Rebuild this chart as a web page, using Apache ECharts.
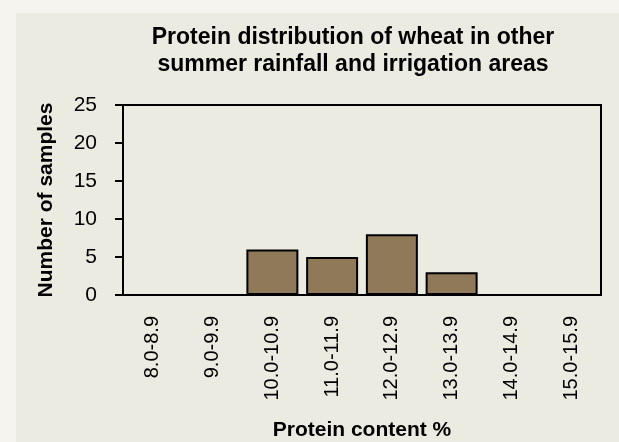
<!DOCTYPE html>
<html>
  <head>
    <meta charset="utf-8" />
    <title>Protein distribution</title>
    <style type="text/css">
      html,
      body {
        width: 100%;
        height: 100%;
        margin: 0px;
        background: #f6f4ef;
      }

      #panel {
        position: absolute;
        left: 16px;
        top: 13px;
        right: 0px;
        bottom: 0px;
        background: #ecebe1;
      }

      #chart {
        position: absolute;
        left: 0px;
        top: 0px;
        width: 619px;
        height: 442px;
      }
    </style>
    <script type="text/javascript" src="https://cdn.jsdelivr.net/npm/echarts@6/dist/echarts.min.js"></script>
  </head>

  <body>
    <div id="panel"></div>
    <div id="chart"></div>
    <script>
      const categories = ['8.0-8.9', '9.0-9.9', '10.0-10.9', '11.0-11.9', '12.0-12.9', '13.0-13.9', '14.0-14.9', '15.0-15.9'];
      const samples = [0, 0, 6, 5, 8, 3, 0, 0];
      const yTicks = [0, 5, 10, 15, 20, 25];

      const font = 'Liberation Sans, Arial, sans-serif';
      const chart = echarts.init(document.getElementById('chart'), null, { renderer: 'canvas' });

      const option = {
        backgroundColor: 'transparent',
        animation: false,
        title: {
          text: 'Protein distribution of wheat in other\nsummer rainfall and irrigation areas',
          left: 348,
          top: 19,
          textAlign: 'center',
          textStyle: {
            fontFamily: font,
            fontSize: 23,
            fontWeight: 'bold',
            color: '#000',
            lineHeight: 27
          }
        },
        grid: {
          left: 123,
          right: 18,
          top: 105,
          bottom: 146,
          show: true,
          borderColor: '#000',
          borderWidth: 2,
          backgroundColor: 'transparent'
        },
        xAxis: {
          type: 'category',
          data: categories,
          name: 'Protein content %',
          nameLocation: 'middle',
          nameGap: 125,
          nameTextStyle: { fontFamily: font, fontSize: 21, fontWeight: 'bold', color: '#000' },
          axisLine: { lineStyle: { color: '#000', width: 2 } },
          axisTick: { length: 7, lineStyle: { color: '#000', width: 2 } },
          axisLabel: { rotate: 90, margin: 21, fontFamily: font, fontSize: 20, color: '#000' }
        },
        yAxis: {
          type: 'value',
          min: yTicks[0],
          max: yTicks[yTicks.length - 1],
          interval: yTicks[1] - yTicks[0],
          name: 'Number of samples',
          nameLocation: 'middle',
          nameGap: 66,
          nameTextStyle: { fontFamily: font, fontSize: 21, fontWeight: 'bold', color: '#000' },
          axisLine: { show: true, lineStyle: { color: '#000', width: 2 } },
          axisTick: { show: true, length: 8, lineStyle: { color: '#000', width: 2 } },
          axisLabel: { margin: 26, fontFamily: font, fontSize: 21, color: '#000' },
          splitLine: { show: false }
        },
        series: [
          {
            type: 'bar',
            data: samples,
            barCategoryGap: '13%',
            itemStyle: {
              color: '#8f7958',
              borderColor: '#000',
              borderWidth: 2
            }
          }
        ]
      };

      chart.setOption(option);
    </script>
  </body>
</html>
